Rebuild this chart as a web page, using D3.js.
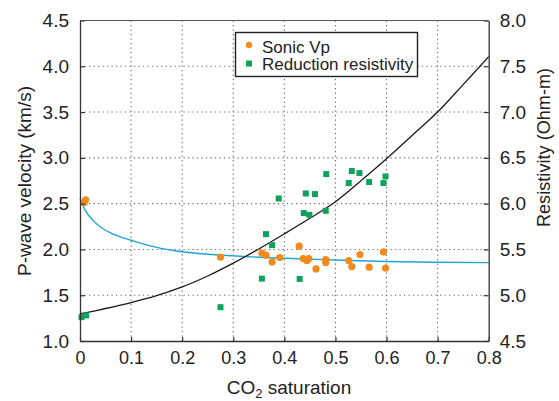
<!DOCTYPE html>
<html>
<head>
<meta charset="utf-8">
<script src="https://cdn.jsdelivr.net/npm/d3@7"></script>
<style>
  html, body { margin: 0; padding: 0; background: #fff; }
  svg { display: block; }
  text { font-family: "Liberation Sans", Arial, sans-serif; fill: #222; }
</style>
</head>
<body>
<svg id="chart" width="559" height="401"></svg>
<script>
// Measured sonic P-wave velocity (km/s) against CO2 saturation
const sonicSat = [0.008, 0.011, 0.275, 0.356, 0.364, 0.376, 0.391, 0.429, 0.437, 0.444,
                  0.448, 0.462, 0.481, 0.481, 0.526, 0.532, 0.548, 0.566, 0.594, 0.598];
const sonicVp  = [2.513, 2.542, 1.915, 1.959, 1.937, 1.864, 1.911, 2.036, 1.900, 1.878,
                  1.900, 1.787, 1.889, 1.857, 1.878, 1.813, 1.944, 1.806, 1.973, 1.795];

// Resistivity derived from the reduction data (Ohm-m)
const resSat = [0.003, 0.012, 0.275, 0.356, 0.364, 0.376, 0.389, 0.430, 0.438, 0.442,
                0.449, 0.460, 0.481, 0.482, 0.526, 0.532, 0.547, 0.566, 0.594, 0.598];
const resOhm = [4.76, 4.78, 4.869, 5.181, 5.667, 5.547, 6.056, 5.178, 5.897, 6.111,
                5.878, 6.104, 5.922, 6.323, 6.225, 6.356, 6.334, 6.236, 6.225, 6.297];

// Model velocity curve (left axis)
const vpCurveSat = [0, 0.01, 0.025, 0.04, 0.06, 0.08, 0.1, 0.125, 0.15, 0.2, 0.25, 0.3, 0.35, 0.4, 0.5, 0.6, 0.7, 0.8];
const vpCurve    = [2.56, 2.43, 2.32, 2.245, 2.18, 2.135, 2.10, 2.058, 2.023, 1.975, 1.948, 1.93, 1.914, 1.903, 1.885, 1.868, 1.86, 1.856];

// Model resistivity curve (right axis)
const resCurveSat = [0, 0.05, 0.1, 0.15, 0.2, 0.25, 0.3, 0.35, 0.4, 0.45, 0.5, 0.55, 0.6, 0.65, 0.7, 0.75, 0.8];
const resCurve    = [4.795, 4.855, 4.92, 4.995, 5.09, 5.21, 5.35, 5.505, 5.67, 5.84, 6.02, 6.25, 6.49, 6.745, 7.0, 7.3, 7.605];

// Tick values
const xTicks = [0, 0.1, 0.2, 0.3, 0.4, 0.5, 0.6, 0.7, 0.8];
const yLeftTicks = [1.0, 1.5, 2.0, 2.5, 3.0, 3.5, 4.0, 4.5];
const yRightTicks = [4.5, 5.0, 5.5, 6.0, 6.5, 7.0, 7.5, 8.0];

const legendLabels = ["Sonic Vp", "Reduction resistivity"];

const colors = { sonic: "#f28a1c", res: "#0ea35a", vpLine: "#1fa4d9", resLine: "#1a1a1a" };

const svg = d3.select("#chart");
const plot = { left: 80, right: 488.7, top: 20.5, bottom: 341 };

const x = d3.scaleLinear().domain([0, 0.8]).range([plot.left, plot.right]);
const yL = d3.scaleLinear().domain([1.0, 4.5]).range([plot.bottom, plot.top]);
const yR = d3.scaleLinear().domain([4.5, 8.0]).range([plot.bottom, plot.top]);

// Dotted grid
const grid = svg.append("g").attr("stroke", "#666").attr("stroke-width", 1.1).attr("stroke-dasharray", "1.2,3.3");
grid.selectAll("line.v").data(xTicks.slice(1, -1)).join("line")
  .attr("x1", d => x(d)).attr("x2", d => x(d))
  .attr("y1", plot.top).attr("y2", plot.bottom);
grid.selectAll("line.h").data(yLeftTicks.slice(1, -1)).join("line")
  .attr("x1", plot.left).attr("x2", plot.right)
  .attr("y1", d => yL(d)).attr("y2", d => yL(d));

// Model curves
const vpLine = d3.line().x((d, i) => x(vpCurveSat[i])).y(d => yL(d)).curve(d3.curveMonotoneX);
svg.append("path").attr("d", vpLine(vpCurve))
  .attr("fill", "none").attr("stroke", colors.vpLine).attr("stroke-width", 1.4);

const resLine = d3.line().x((d, i) => x(resCurveSat[i])).y(d => yR(d)).curve(d3.curveCatmullRom);
svg.append("path").attr("d", resLine(resCurve))
  .attr("fill", "none").attr("stroke", colors.resLine).attr("stroke-width", 1.3);

// Resistivity points
svg.append("g").selectAll("rect").data(resOhm).join("rect")
  .attr("x", (d, i) => x(resSat[i]) - 3).attr("y", d => yR(d) - 3)
  .attr("width", 6).attr("height", 6).attr("fill", colors.res);

// Sonic velocity points
svg.append("g").selectAll("circle").data(sonicVp).join("circle")
  .attr("cx", (d, i) => x(sonicSat[i])).attr("cy", d => yL(d))
  .attr("r", 3.6).attr("fill", colors.sonic);

// Axes
const fmt1 = d3.format(".1f");
const axisBottom = d3.axisBottom(x).tickValues(xTicks).tickSizeInner(-4).tickSizeOuter(0)
  .tickFormat(d => d === 0 ? "0" : fmt1(d)).tickPadding(10);
const axisLeft = d3.axisLeft(yL).tickValues(yLeftTicks).tickSizeInner(-5).tickSizeOuter(0)
  .tickFormat(fmt1).tickPadding(11);
const axisRight = d3.axisRight(yR).tickValues(yRightTicks).tickSizeInner(-5).tickSizeOuter(0)
  .tickFormat(fmt1).tickPadding(11);

function styleAxis(g, size) {
  g.select(".domain").attr("stroke", "#333").attr("stroke-width", 1.3);
  g.selectAll(".tick line").attr("stroke", "#333").attr("stroke-width", 1.2);
  g.selectAll(".tick text").attr("font-size", size).attr("fill", "#222")
    .attr("font-family", "'Liberation Sans', Arial, sans-serif");
}

svg.append("g").attr("transform", `translate(0,${plot.bottom})`).call(axisBottom).call(g => styleAxis(g, 18));
svg.append("g").attr("transform", `translate(${plot.left},0)`).call(axisLeft).call(g => styleAxis(g, 19));
svg.append("g").attr("transform", `translate(${plot.right},0)`).call(axisRight).call(g => styleAxis(g, 19));

// Top frame
svg.append("line").attr("x1", plot.left).attr("x2", plot.right)
  .attr("y1", plot.top).attr("y2", plot.top).attr("stroke", "#555").attr("stroke-width", 1.2);

// Axis titles
const xTitle = svg.append("text").attr("x", 289).attr("y", 394).attr("text-anchor", "middle").attr("font-size", 19);
xTitle.append("tspan").text("CO");
xTitle.append("tspan").text("2").attr("font-size", 13).attr("dy", 3.5);
xTitle.append("tspan").text(" saturation").attr("dy", -3.5);

svg.append("text").attr("transform", "translate(31,181) rotate(-90)")
  .attr("text-anchor", "middle").attr("font-size", 19)
  .text("P-wave velocity (km/s)");

svg.append("text").attr("transform", "translate(550,147.5) rotate(-90)")
  .attr("text-anchor", "middle").attr("font-size", 18)
  .attr("textLength", 159).attr("lengthAdjust", "spacing")
  .text("Resistivity (Ohm-m)");

// Legend
const legend = svg.append("g");
legend.append("rect").attr("x", 235.5).attr("y", 32.5).attr("width", 182).attr("height", 44)
  .attr("fill", "#fff").attr("stroke", "#222").attr("stroke-width", 1.4);
legend.append("circle").attr("cx", 249).attr("cy", 45).attr("r", 3.2).attr("fill", colors.sonic);
legend.append("rect").attr("x", 246).attr("y", 60.5).attr("width", 6).attr("height", 6).attr("fill", colors.res);
legend.selectAll("text").data(legendLabels).join("text")
  .attr("x", 262).attr("y", (d, i) => 52.5 + i * 17.5)
  .attr("font-size", 17).text(d => d);
</script>
</body>
</html>
